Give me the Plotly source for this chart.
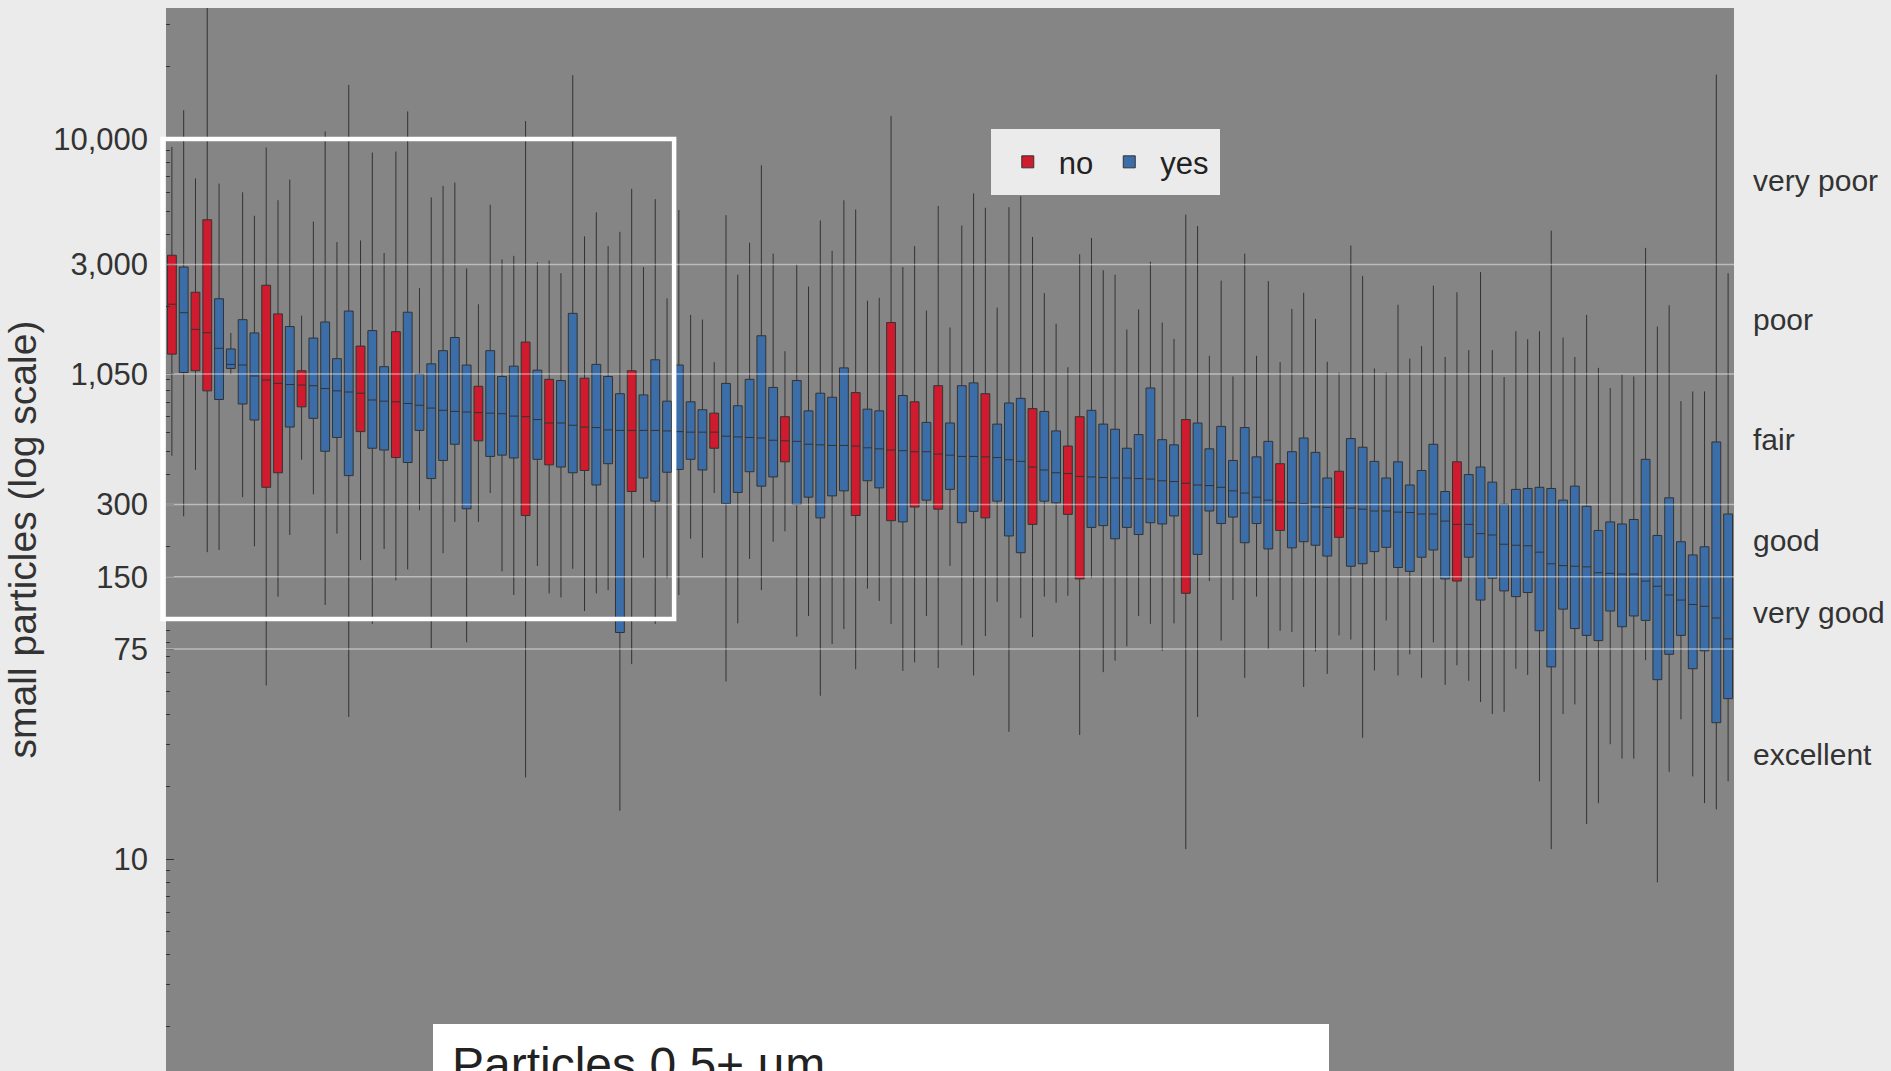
import plotly.graph_objects as go
import math

# ---------------- data ----------------
groups = ["no", "yes", "no", "no", "yes", "yes", "yes", "yes", "no", "no",
          "yes", "no", "yes", "yes", "yes", "yes", "no", "yes", "yes", "no",
          "yes", "yes", "yes", "yes", "yes", "yes", "no", "yes", "yes", "yes",
          "no", "yes", "no", "yes", "yes", "no", "yes", "yes", "yes", "no",
          "yes", "yes", "yes", "yes", "yes", "yes", "no", "yes", "yes", "yes",
          "yes", "yes", "no", "yes", "yes", "yes", "yes", "yes", "no", "yes",
          "yes", "no", "yes", "no", "yes", "no", "yes", "yes", "yes", "no",
          "yes", "yes", "yes", "no", "yes", "yes", "no", "no", "yes", "yes",
          "yes", "yes", "yes", "yes", "yes", "yes", "no", "yes", "yes", "yes",
          "yes", "yes", "yes", "yes", "no", "yes", "yes", "yes", "yes", "no",
          "yes", "yes", "yes", "yes", "yes", "yes", "yes", "yes", "yes", "no",
          "yes", "yes", "yes", "yes", "yes", "yes", "yes", "yes", "yes", "yes",
          "yes", "yes", "yes", "yes", "yes", "yes", "yes", "yes", "yes", "yes",
          "yes", "yes", "yes"]

lower = [479, 268, 418, 190, 194, 1048, 322, 201, 52.9, 124,
         224, 461, 331, 114.5, 227, 39.1, 176, 95.5, 196, 145,
         161, 284, 75.7, 188, 254, 80, 254, 335, 158, 126,
         21.9, 166.5, 128, 123, 162, 108, 128, 132, 15.9, 64.9,
         180, 95.5, 148, 126, 216, 180, 335, 55.0, 96.0, 178,
         132, 210, 232, 84.5, 103, 47.9, 78.7, 90.8, 61.8, 134,
         119, 95.5, 60.8, 66.0, 103, 62.5, 166.5, 77.8, 58.2, 85.0,
         118, 33.9, 101, 84.1, 124, 117, 125, 32.9, 148, 60.1,
         67.1, 77.0, 103, 95.5, 73.7, 96.0, 11.0, 39.1, 144, 81.3,
         120, 56.9, 124, 74.9, 89.4, 88.4, 52.1, 73.3, 59.1, 85.5,
         82.2, 32.0, 61.1, 98.7, 58.2, 71.3, 56.9, 80.0, 53.2, 64.2,
         55.3, 45.1, 40.2, 41.1, 62.1, 58.5, 21.1, 11.0, 40.2, 44.1,
         14.0, 17.1, 30.1, 26.2, 26.2, 67.4, 8.0, 23.1, 38.2, 22.1,
         17.1, 16.1, 21.1]

q1 = [1270, 1065, 1083, 893, 822, 1107, 787, 675, 354, 407,
      631, 766, 686, 500, 571, 396, 604, 515, 506, 471,
      449, 611, 385, 458, 535, 288, 553, 476, 482, 469,
      270, 463, 439, 430, 407, 416, 362, 444, 87.9, 340,
      387, 310, 409, 420, 463, 418, 515, 303, 337, 411,
      358, 391, 452, 300, 322, 264, 326, 342, 270, 377,
      352, 257, 254, 293, 313, 287, 347, 252, 281, 264,
      310, 222, 189, 248, 310, 305, 273, 147, 241, 245,
      216, 241, 225, 252, 249, 269, 128, 186, 282, 250,
      266, 208, 250, 196, 234, 198, 210, 203, 183, 219,
      166, 170, 191, 199, 164, 158, 181, 194, 147, 144,
      181, 120, 148, 131, 124, 129, 89.4, 63.2, 110, 91.3,
      85.5, 81.3, 108, 92.9, 103, 98.7, 55.9, 71.3, 85.5, 62.1,
      73.7, 37.0, 46.6]

median = [2050, 1890, 1610, 1560, 1343, 1151, 1144, 1030, 991, 959,
          949, 944, 938, 913, 893, 883, 873, 818, 809, 804,
          791, 778, 757, 741, 733, 729, 725, 721, 717, 701,
          697, 678, 656, 656, 642, 631, 628, 614, 611, 611,
          611, 611, 608, 604, 601, 601, 601, 578, 574, 571,
          568, 556, 553, 550, 535, 532, 529, 529, 526, 517,
          512, 506, 503, 498, 498, 487, 482, 476, 476, 474,
          471, 461, 454, 430, 418, 407, 404, 393, 391, 389,
          387, 387, 385, 383, 377, 374, 368, 362, 360, 354,
          342, 335, 322, 313, 308, 305, 303, 293, 292, 292,
          290, 287, 282, 282, 279, 278, 274, 274, 256, 248,
          248, 227, 224, 205, 203, 202, 190, 170, 167, 166,
          165, 156, 155, 154, 154, 144, 137, 126, 120, 115,
          113, 101, 82.7]

q3 = [3280, 2930, 2300, 4610, 2160, 1335, 1768, 1557, 2460, 1868,
      1655, 1083, 1482, 1729, 1216, 1920, 1372, 1592, 1126, 1575,
      1899, 1048, 1157, 1313, 1490, 1144, 933, 1313, 1025, 1132,
      1426, 1089, 997, 986, 1878, 1008, 1151, 1025, 869, 1083,
      859, 1203, 809, 1144, 804, 745, 721, 959, 774, 997,
      1515, 923, 697, 986, 737, 873, 840, 1113, 878, 749,
      737, 1720, 854, 804, 660, 938, 656, 938, 964, 869,
      649, 795, 831, 753, 733, 608, 526, 697, 741, 649,
      618, 515, 587, 918, 559, 532, 678, 656, 512, 635,
      458, 628, 474, 550, 444, 498, 568, 495, 387, 413,
      565, 520, 454, 387, 452, 362, 416, 535, 340, 452,
      400, 430, 372, 301, 347, 350, 354, 350, 313, 358,
      295, 234, 254, 249, 260, 463, 223, 320, 210, 185,
      200, 547, 274]

upper = [9270, 13190, 6850, 40000, 6520, 1557, 6000, 4790, 9220, 5560,
         6780, 1837, 4530, 10760, 3720, 16810, 3780, 8780, 3350, 8870,
         13040, 2393, 5710, 6380, 6590, 2890, 2050, 5320, 3150, 3260,
         11880, 3070, 3117, 2760, 18460, 3930, 4950, 3580, 4106, 6200,
         2930, 5620, 2170, 5060, 1850, 1770, 1176, 4820, 2720, 3700,
         7780, 3330, 1306, 3000, 2430, 4580, 3420, 5560, 5090, 2120,
         2180, 12480, 2930, 3580, 1930, 5260, 1640, 4360, 5940, 5170,
         1985, 5200, 5780, 3910, 2280, 1700, 1120, 3310, 3870, 2840,
         2720, 1610, 1950, 3080, 1720, 1470, 4840, 4340, 1250, 2570,
         1025, 3330, 1250, 2560, 1176, 1960, 2290, 1780, 1180, 1065,
         3600, 2690, 1107, 1065, 2040, 1216, 1372, 2450, 1236, 2300,
         1320, 2790, 1320, 1019, 1583, 1466, 1583, 4150, 1490, 1236,
         1850, 1113, 918, 1042, 1025, 3520, 1655, 2030, 809, 888,
         888, 18560, 2760]

tick_vals = [10, 75, 150, 300, 1050, 3000, 10000]
tick_text = ["10", "75", "150", "300", "1,050", "3,000", "10,000"]
grid_vals = [75, 150, 300, 1050, 3000]
band_labels = ["excellent", "very good", "good", "fair", "poor", "very poor"]
band_edges = [10, 75, 150, 300, 1050, 3000, 15000]
highlight_x = [-0.79, 42.6]       # span of box positions inside the white frame
highlight_y = [100, 10000]
legend_names = ["no", "yes"]
colors = {"no": "#d01a2d", "yes": "#3b6ea8"}
caption = "Particles 0.5+ µm"

# ---------------- figure ----------------
W, H = 1891, 1071
ML, MR, MT, MB = 166, 157, 8, 0
FONT = "Liberation Sans, Arial, Helvetica, sans-serif"
n = len(median)
xpos = list(range(n))
yrange = [0.117, 4.546]

fig = go.Figure()
for g in legend_names:
    idx = [i for i in range(n) if groups[i] == g]
    fig.add_trace(go.Box(
        name=g,
        x=[xpos[i] for i in idx],
        q1=[q1[i] for i in idx],
        median=[median[i] for i in idx],
        q3=[q3[i] for i in idx],
        lowerfence=[lower[i] for i in idx],
        upperfence=[upper[i] for i in idx],
        fillcolor=colors[g],
        line=dict(color="#333333", width=1),
        whiskerwidth=0,
        width=0.75,
        boxpoints=False,
        hoverinfo="skip",
    ))

shapes = []
for v in grid_vals:
    shapes.append(dict(type="line", xref="paper", yref="y", x0=0, x1=1, y0=v, y1=v,
                       line=dict(color="rgba(255,255,255,0.45)", width=1.5), layer="above"))

def x_to_paper(v):
    return (v + 0.5) / n
shapes.append(dict(type="rect", xref="paper", yref="y",
                   x0=x_to_paper(highlight_x[0]), x1=x_to_paper(highlight_x[1]),
                   y0=highlight_y[0], y1=highlight_y[1],
                   line=dict(color="white", width=4.5), fillcolor="rgba(0,0,0,0)", layer="above"))

plot_w = W - ML - MR
plot_h = H - MT - MB
shapes.append(dict(type="rect", xref="paper", yref="paper",
                   x0=(433 - ML) / plot_w, x1=(1329 - ML) / plot_w,
                   y0=-0.2, y1=(H - 1024) / plot_h,
                   line=dict(width=0), fillcolor="white", layer="above"))

annotations = []
for k, lab in enumerate(band_labels):
    ymid = (math.log10(band_edges[k]) + math.log10(band_edges[k + 1])) / 2
    annotations.append(dict(text=lab, xref="paper", yref="y", x=(1751 - ML) / plot_w, y=ymid,
                            xanchor="left", yanchor="middle", showarrow=False,
                            font=dict(family=FONT, size=30, color="#333333")))
annotations.append(dict(text=caption, xref="paper", yref="paper",
                        x=(450 - ML) / plot_w, y=(H - 1036) / plot_h,
                        xanchor="left", yanchor="top", showarrow=False,
                        font=dict(family=FONT, size=48, color="#222222")))

minor_vals = [k * 10 ** e for e in range(0, 5) for k in range(1, 10)
              if k * 10 ** e not in tick_vals and 1.3 < k * 10 ** e < 35000]

fig.update_layout(
    width=W, height=H,
    margin=dict(l=ML, r=MR, t=MT, b=MB, pad=0),
    paper_bgcolor="#ebebeb",
    plot_bgcolor="#858585",
    boxmode="overlay",
    font=dict(family=FONT, size=30, color="#333333"),
    showlegend=True,
    legend=dict(orientation="h", x=0.526, y=0.886, xanchor="left", yanchor="top",
                bgcolor="#ebebeb", bordercolor="#ebebeb", borderwidth=6,
                font=dict(family=FONT, size=31, color="#222222"),
                itemwidth=52, traceorder="normal"),
    xaxis=dict(range=[-0.5, n - 0.5], showticklabels=False, ticks="", showgrid=False,
               zeroline=False, showline=False, automargin=False),
    yaxis=dict(type="log", range=yrange, tickmode="array", tickvals=tick_vals, ticktext=tick_text,
               ticks="inside", ticklen=8, tickcolor="#333333", tickwidth=1,
               ticklabelstandoff=17,
               tickfont=dict(family=FONT, size=31, color="#333333"),
               showgrid=False, zeroline=False, showline=False, automargin=False,
               minor=dict(tickmode="array", tickvals=minor_vals, ticks="inside", ticklen=4,
                          tickcolor="#333333", tickwidth=1, showgrid=False),
               title=dict(text="small particles (log scale)", standoff=4,
                          font=dict(family=FONT, size=39, color="#333333"))),
    shapes=shapes,
    annotations=annotations,
)

fig.write_html("out.html", config={"displayModeBar": False},
               post_script="document.body.style.margin='0';document.body.style.overflow='hidden';")
